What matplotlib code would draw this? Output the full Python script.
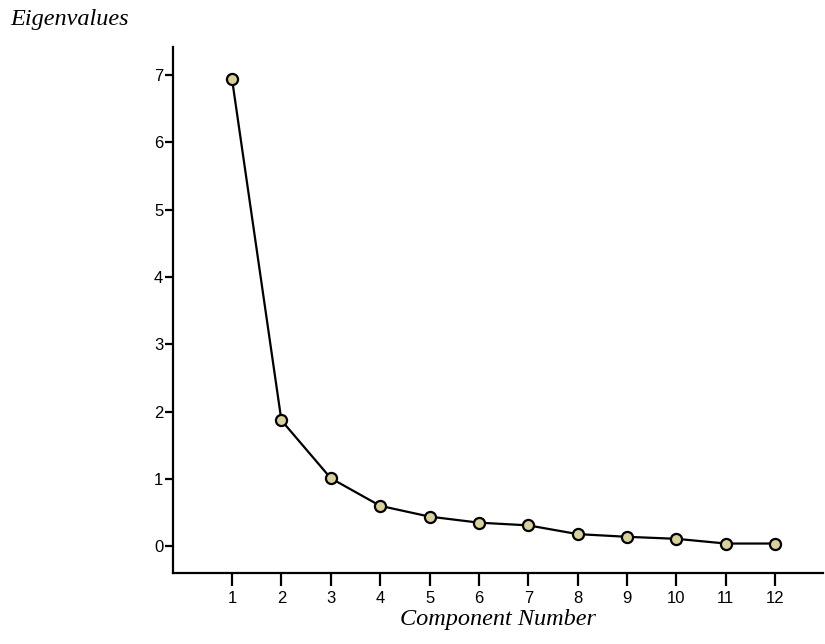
import matplotlib
matplotlib.use("Agg")
import matplotlib.pyplot as plt

# Scree plot data
components = [1, 2, 3, 4, 5, 6, 7, 8, 9, 10, 11, 12]
eigenvalues = [6.94, 1.87, 1.01, 0.60, 0.44, 0.35, 0.31, 0.18, 0.14, 0.11, 0.04, 0.04]
y_ticks = [0, 1, 2, 3, 4, 5, 6, 7]

fig = plt.figure(figsize=(8.25, 6.44), dpi=100, facecolor="white")
ax = fig.add_axes([0.2097, 0.110, 0.788, 0.817])

ax.plot(components, eigenvalues, color="black", linewidth=1.6, marker="o",
        markersize=8, markerfacecolor="#d8d19c", markeredgecolor="black",
        markeredgewidth=1.6, zorder=3)

ax.set_xlim(-0.195, 12.97)
ax.set_ylim(-0.40, 7.415)
ax.set_xticks(components)
ax.set_yticks(y_ticks)

for s in ["top", "right"]:
    ax.spines[s].set_visible(False)
for s in ["left", "bottom"]:
    ax.spines[s].set_linewidth(1.6)

ax.tick_params(axis="y", length=6, width=1.6, labelsize=12, pad=1)
ax.tick_params(axis="x", length=9, width=1.6, labelsize=12, pad=4)
for lbl in ax.get_xticklabels() + ax.get_yticklabels():
    lbl.set_family(["Liberation Sans", "DejaVu Sans"])

ax.set_xlabel("Component Number", family="Liberation Serif", style="italic",
              fontsize=17.5, labelpad=2)
fig.text(0.012, 0.970, "Eigenvalues", family="Liberation Serif", style="italic",
         fontsize=17.5, ha="left", va="center")

fig.savefig("out.png", dpi=100, facecolor="white")
